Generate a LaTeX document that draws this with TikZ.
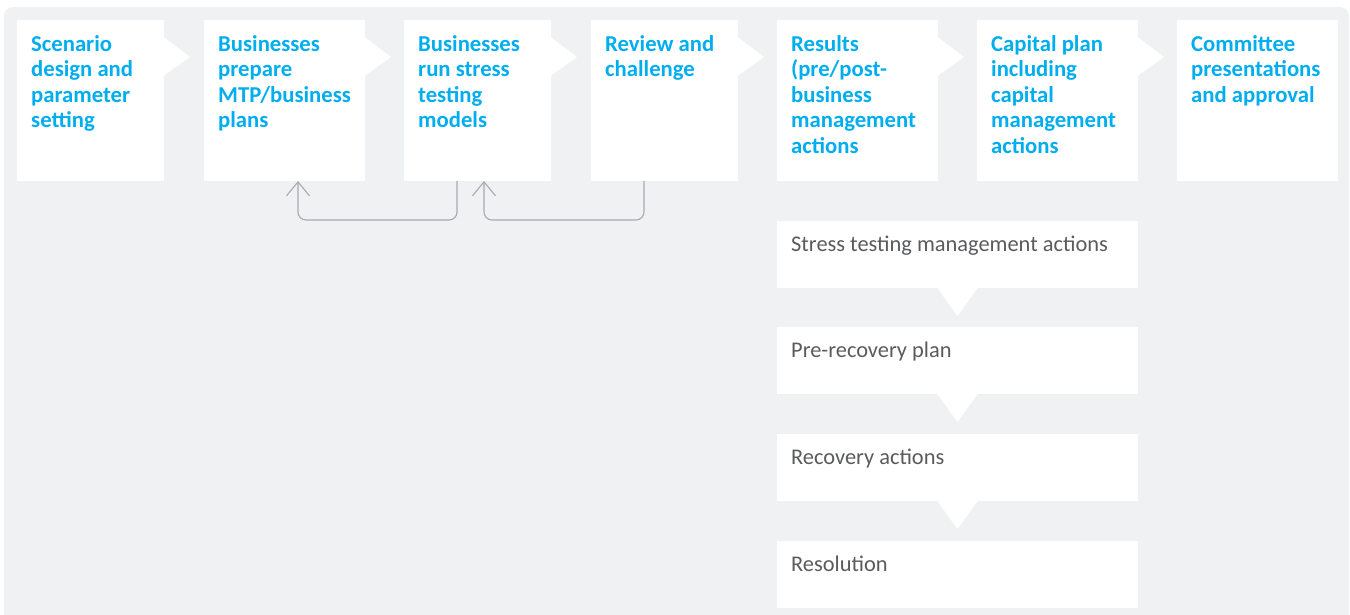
\documentclass[tikz,border=0pt]{standalone}
\usepackage{fontspec}
\setmainfont{Carlito}
\usetikzlibrary{arrows.meta,calc}
\definecolor{bgc}{HTML}{F0F1F3}
\definecolor{blu}{HTML}{00AEEF}
\definecolor{txg}{HTML}{5A5B5D}
\definecolor{lng}{HTML}{A9AAAD}
\begin{document}
\begin{tikzpicture}[x=1pt,y=-1pt,
  box/.style={fill=white, draw=none, inner sep=0pt, outer sep=0pt, anchor=north west},
  topbox/.style={box, minimum height=161pt},
  botbox/.style={box, minimum width=361pt, minimum height=67pt},
  wedge/.style={fill=white, draw=none},
  toptext/.style={anchor=north west, inner sep=0pt, align=left, text=blu,
    font=\fontsize{22.7}{25.5}\selectfont\bfseries},
  bottext/.style={anchor=north west, inner sep=0pt, align=left, text=txg,
    font=\fontsize{22.4}{26}\selectfont},
  conn/.style={draw=lng, line width=1.1pt, rounded corners=8pt,
    -{Straight Barb[length=14pt,width=23pt,line width=1.1pt]}}
]
\useasboundingbox (0,0) rectangle (1350,615);
\fill[bgc, rounded corners=9pt] (4,7) rectangle (1349,640);

% top boxes
\node[topbox, minimum width=147pt] (b1) at (17,20) {};
\node[topbox, minimum width=161pt] (b2) at (204,20) {};
\node[topbox, minimum width=147pt] (b3) at (404,20) {};
\node[topbox, minimum width=147pt] (b4) at (591,20) {};
\node[topbox, minimum width=161pt] (b5) at (777,20) {};
\node[topbox, minimum width=161pt] (b6) at (977,20) {};
\node[topbox, minimum width=161pt] (b7) at (1177,20) {};

% right-pointing wedges
\foreach \b in {b1,b2,b3,b4,b5,b6}{
  \fill[wedge] ($(\b.north east)+(-0.5,17)$) -- ($(\b.north east)+(26,37)$) -- ($(\b.north east)+(-0.5,56)$) -- cycle;
}

% top texts
\node[toptext] (t1) at ($(b1.north west)+(14,13.15)$) {\strut Scenario\\design and\\parameter\\setting};
\node[toptext] (t2) at ($(b2.north west)+(14,13.15)$) {\strut Businesses\\prepare\\MTP/business\\plans};
\node[toptext] (t3) at ($(b3.north west)+(14,13.15)$) {\strut Businesses\\run stress\\testing\\models};
\node[toptext] (t4) at ($(b4.north west)+(14,13.15)$) {\strut Review and\\challenge};
\node[toptext] (t5) at ($(b5.north west)+(14,13.15)$) {\strut Results\\(pre/post-\\business\\management\\actions};
\node[toptext] (t6) at ($(b6.north west)+(14,13.15)$) {\strut Capital plan\\including\\capital\\management\\actions};
\node[toptext] (t7) at ($(b7.north west)+(14,13.15)$) {\strut Committee\\presentations\\and approval};

% feedback connectors
\draw[conn] ($(b3.south west)+(53,0)$) -- ++(0,39) -| ($(b2.south west)+(94,0)$);
\draw[conn] ($(b4.south west)+(53,0)$) -- ++(0,39) -| ($(b3.south west)+(80,0)$);

% bottom boxes
\node[botbox] (s1) at (777,221) {};
\node[botbox] (s2) at (777,327) {};
\node[botbox] (s3) at (777,434) {};
\node[botbox] (s4) at (777,541) {};

\foreach \s in {s1,s2,s3}{
  \fill[wedge] ($(\s.south)+(-20.5,-0.5)$) -- ($(\s.south)+(0,28)$) -- ($(\s.south)+(20.5,-0.5)$) -- cycle;
}

\node[bottext] (u1) at ($(s1.north west)+(14,11.8)$) {\strut Stress testing management actions};
\node[bottext] (u2) at ($(s2.north west)+(14,11.8)$) {\strut Pre-recovery plan};
\node[bottext] (u3) at ($(s3.north west)+(14,11.8)$) {\strut Recovery actions};
\node[bottext] (u4) at ($(s4.north west)+(14,11.8)$) {\strut Resolution};
\end{tikzpicture}
\end{document}
